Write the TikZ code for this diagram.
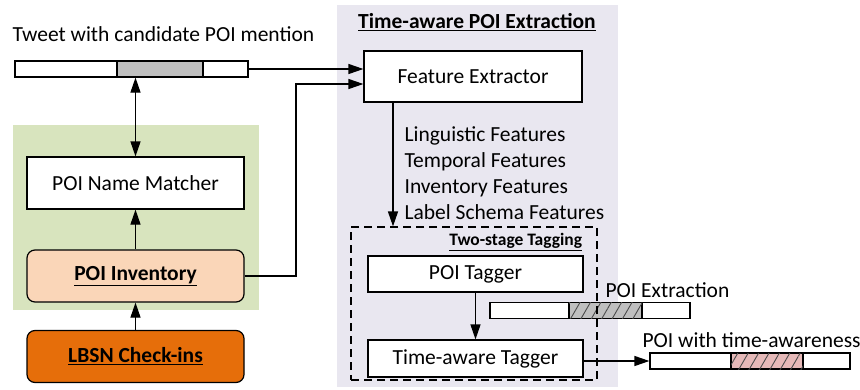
\documentclass[tikz,border=0pt]{standalone}
\usepackage{fontspec}
\setmainfont{Carlito}
\usetikzlibrary{arrows.meta,calc,patterns.meta,positioning}
\definecolor{panel}{RGB}{233,231,240}
\definecolor{greenbg}{RGB}{216,228,190}
\definecolor{peach}{RGB}{250,214,184}
\definecolor{lbsn}{RGB}{230,110,10}
\definecolor{pink}{RGB}{230,185,184}
\definecolor{grey}{RGB}{191,191,191}

\begin{document}
\begin{tikzpicture}[x=1pt,y=-1pt,>={Triangle[length=15pt,width=10pt]},line width=1.2pt,
  every node/.style={font=\fontsize{21.5}{25}\selectfont},
  box/.style={draw,fill=white,minimum width=217pt,minimum height=52pt,inner sep=0pt},
  rbox/.style={box,rounded corners=8pt},
  bar/.style={draw,fill=white,minimum height=16pt,inner sep=0pt},
  hatch/.style={postaction={pattern={Lines[angle=60,distance=9pt,line width=0.9pt]},pattern color=black!70}},
  lbl/.style={anchor=west,inner sep=0pt}]
\useasboundingbox (0,0) rectangle (860,389);
% panels
\fill[panel] (337,5) rectangle (618,387);
\fill[greenbg] (13,125) rectangle (259,310);
\node (title) at (477,22) {\textbf{\underline{Time-aware POI Extraction}}};

% tweet and inventory side
\node[lbl] (tweetlbl) at (12,34) {Tweet with candidate POI mention};
\node[bar,minimum width=233pt] (tweet) at (131.5,69) {};
\node[bar,fill=grey,minimum width=86pt] (mention) at (160,69) {};
\node[box] (matcher) at (135.5,183) {POI Name Matcher};
\node[rbox,fill=peach] (inventory) at (135.5,276) {\textbf{\underline{POI Inventory}}};
\node[rbox,fill=lbsn] (checkins) at (135.5,356.5) {\textbf{\underline{LBSN Check-ins}}};

% extraction side
\node[box,minimum width=218pt,minimum height=51pt] (extractor) at (473,76.5) {Feature Extractor};
\node[anchor=north west,align=left,inner sep=0pt,font=\fontsize{21.5}{26}\selectfont] (features) at (404,126)
  {Linguistic Features\\Temporal Features\\Inventory Features\\Label Schema Features};
\node[box,minimum width=215pt,minimum height=36pt] (tagger) at (475.5,274) {POI Tagger};
\node[box,minimum width=215pt,minimum height=37pt] (timetagger) at (475.5,358.5) {Time-aware Tagger};

% output bars
\node[lbl] (extractlbl) at (605,290) {POI Extraction};
\node[bar,minimum width=200pt] (extract) at (590,310.5) {};
\node[bar,fill=grey,hatch,minimum width=73pt] (extractpoi) at (605.5,310.5) {};
\node[lbl] (timelbl) at (642,340) {POI with time-awareness};
\node[bar,minimum width=200pt] (timebar) at (750,361) {};
\node[bar,fill=pink,hatch,minimum width=72pt] (timepoi) at (767,361) {};

% two-stage box goes over the bars
\node[draw,dash pattern=on 8pt off 5pt,minimum width=246pt,minimum height=153pt] (stage) at (474,303.5) {};
\node[anchor=east,font=\fontsize{17.5}{20}\selectfont\bfseries] (stagelbl) at (586,242) {\underline{Two-stage Tagging}};

\coordinate (bend) at (296,84);
\draw[<->] (matcher.north) -- (matcher.north |- tweet.south);
\draw[->] (inventory.north) -- (matcher.south);
\draw[->] (checkins.north) -- (inventory.south);
\draw[->] (tweet.east) -- (tweet.east -| extractor.west);
\draw[->] (inventory.east) -| (bend) -- (bend -| extractor.west);
\draw[->] ([xshift=-80pt]extractor.south) -- ([xshift=-80pt]extractor.south |- stage.north);
\draw[->] (tagger.south) -- (timetagger.north);
\draw[->] (timetagger.east |- timebar.west) -- (timebar.west);
\end{tikzpicture}
\end{document}
